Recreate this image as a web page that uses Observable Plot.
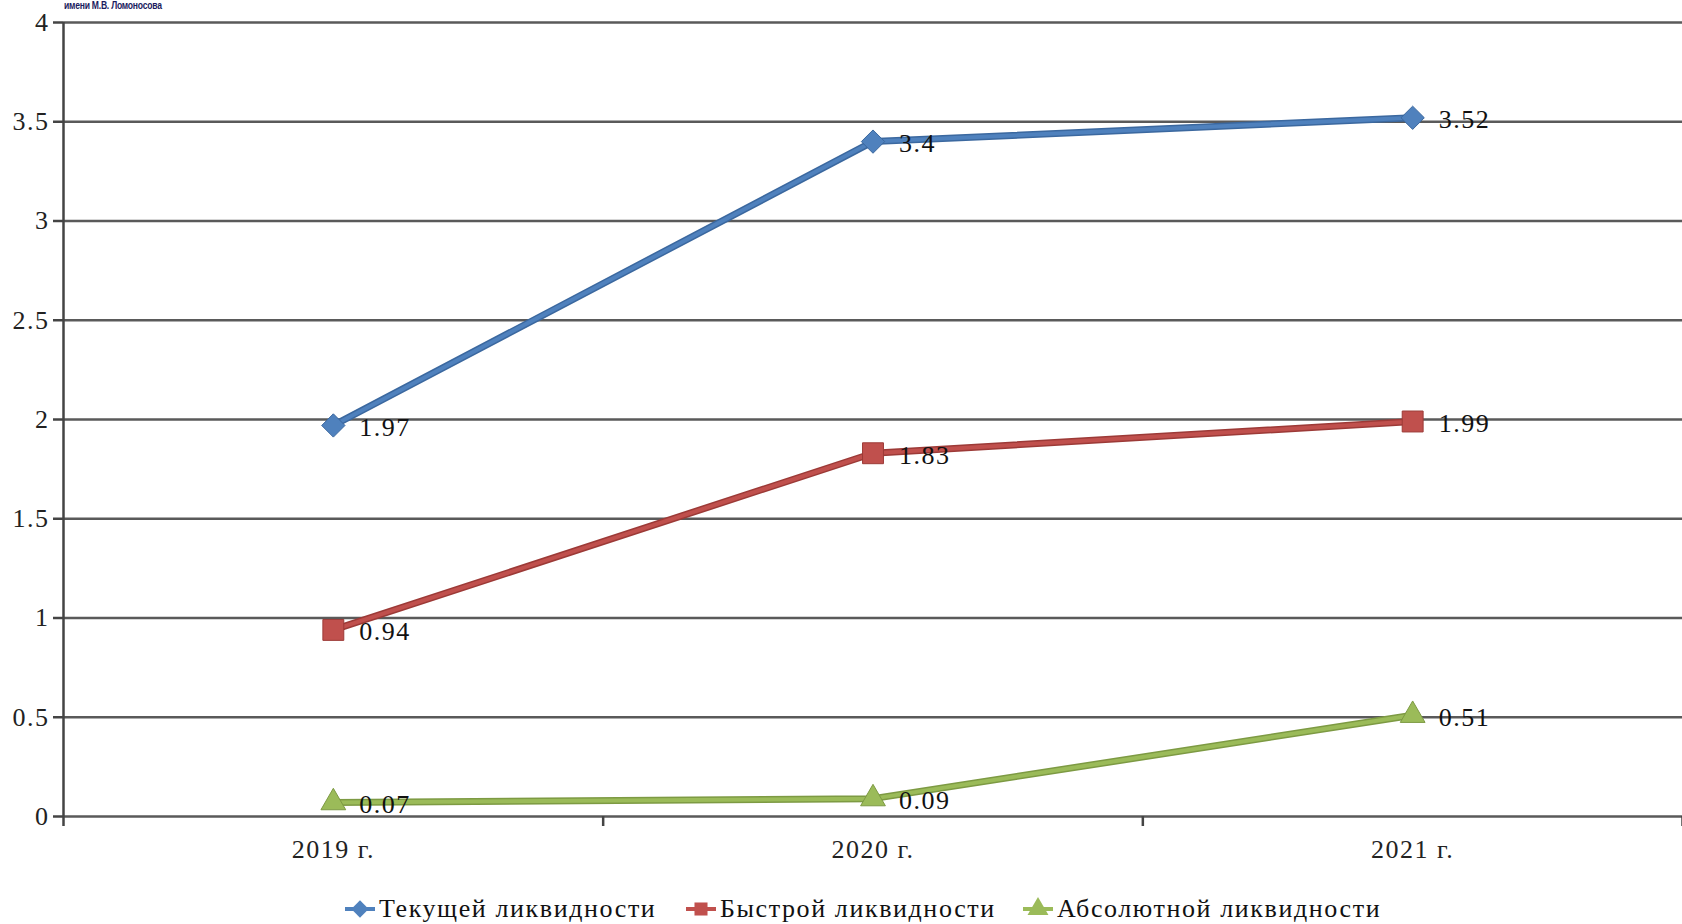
<!DOCTYPE html>
<html>
<head>
<meta charset="utf-8">
<script src="https://cdn.jsdelivr.net/npm/d3@7"></script>
<script src="https://cdn.jsdelivr.net/npm/@observablehq/plot@0.6"></script>
<style>
  html, body { margin: 0; padding: 0; background: #fff; }
  body { width: 1682px; height: 924px; overflow: hidden; position: relative; font-family: "Liberation Serif", "DejaVu Serif", serif; }
  #hdr { position: absolute; z-index: 5; top: 0px; left: 64px; font-family: "Liberation Sans Narrow", "Liberation Sans", sans-serif; font-weight: bold; font-size: 11px; line-height: 11px; color: #1b1b5e; transform: scaleX(0.78); transform-origin: left top; white-space: nowrap; letter-spacing: -0.3px; }
  #chart { position: absolute; top: 0; left: 0; }
  #legend { position: absolute; top: 894px; left: 0; width: 1682px; height: 34px; }
  #legend .item { position: absolute; top: 0; display: flex; align-items: center; font-size: 26px; letter-spacing: 1.6px; color: #111; white-space: nowrap; }
  #legend svg { margin-right: 2px; }
</style>
</head>
<body>
<div id="hdr">имени М.В. Ломоносова</div>
<div id="chart"></div>
<div id="legend"></div>
<script>
const years = ["2019 г.", "2020 г.", "2021 г."];
const seriesNames = ["Текущей ликвидности", "Быстрой ликвидности", "Абсолютной ликвидности"];
const currentRatio = [1.97, 3.4, 3.52];
const quickRatio = [0.94, 1.83, 1.99];
const absoluteRatio = [0.07, 0.09, 0.51];
const yTicks = [0, 0.5, 1, 1.5, 2, 2.5, 3, 3.5, 4];

const colors = ["#4F81BD", "#C0504D", "#9BBB59"];
const edges = ["#3b689f", "#9c3a37", "#7d9a43"];
const symbols = ["diamond2", "square", "triangle"];
const radii = [10.5, 11.8, 9.2];
const allSeries = [currentRatio, quickRatio, absoluteRatio];

const rows = [];
allSeries.forEach((vals, s) => {
  vals.forEach((v, i) => rows.push({series: seriesNames[s], s, i: i + 0.5, year: years[i], value: v, label: String(v)}));
});

const marks = [
  Plot.ruleY(yTicks, {stroke: "#5a5a5a", strokeWidth: 2.5}),
  Plot.axisY({ticks: yTicks, tickFormat: d => String(d), tickSize: 10, tickPadding: 4, stroke: "#444", strokeWidth: 2.5, fontSize: 26, fill: "#222", label: null}),
  Plot.ruleX([0], {y1: 4, y2: 0, insetBottom: -10, stroke: "#444", strokeWidth: 2.5}),
  Plot.ruleX([1, 2, 3], {y1: 0, y2: 0, insetBottom: -10, stroke: "#444", strokeWidth: 2.5}),
  Plot.text(years.map((y, i) => ({x: i + 0.5, t: y})), {x: "x", y: d => 0, text: "t", dy: 33, fontSize: 26, fill: "#222"})
];
allSeries.forEach((vals, s) => {
  const data = rows.filter(r => r.s === s);
  marks.push(Plot.line(data, {x: "i", y: "value", stroke: edges[s], strokeWidth: 7}));
  marks.push(Plot.line(data, {x: "i", y: "value", stroke: colors[s], strokeWidth: 4}));
});
allSeries.forEach((vals, s) => {
  const data = rows.filter(r => r.s === s);
  marks.push(Plot.dot(data, {x: "i", y: "value", symbol: d => symbols[s], fill: colors[s], stroke: edges[s], strokeWidth: 1, r: radii[s]}));
  marks.push(Plot.text(data, {x: "i", y: "value", text: "label", textAnchor: "start", dx: 26, dy: 2, fontSize: 26, fill: "#111"}));
});

const chart = Plot.plot({
  width: 1682,
  height: 880,
  marginLeft: 63,
  marginRight: 0,
  marginTop: 22,
  marginBottom: 64,
  style: {fontFamily: "Liberation Serif, serif", background: "transparent", overflow: "visible", letterSpacing: "1.5px"},
  x: {type: "linear", domain: [0, 3], axis: null},
  y: {type: "linear", domain: [0, 4], axis: null},
  symbol: {type: "identity"},
  marks
});
document.getElementById("chart").appendChild(chart);

// legend
const legend = document.getElementById("legend");
const legendX = [343, 684, 1021];
const legendTypes = [d3.symbolDiamond2, d3.symbolSquare, d3.symbolTriangle];
seriesNames.forEach((name, s) => {
  const item = document.createElement("div");
  item.className = "item";
  item.style.left = legendX[s] + "px";
  const sym = d3.create("svg").attr("width", 34).attr("height", 30);
  sym.append("line").attr("x1", 2).attr("x2", 32).attr("y1", 15).attr("y2", 15).attr("stroke", colors[s]).attr("stroke-width", 4);
  sym.append("path").attr("transform", "translate(17,15)").attr("d", d3.symbol().type(legendTypes[s]).size(s === 1 ? 170 : 190)()).attr("fill", colors[s]);
  item.appendChild(sym.node());
  const t = document.createElement("span");
  t.textContent = name;
  item.appendChild(t);
  legend.appendChild(item);
});
</script>
</body>
</html>
